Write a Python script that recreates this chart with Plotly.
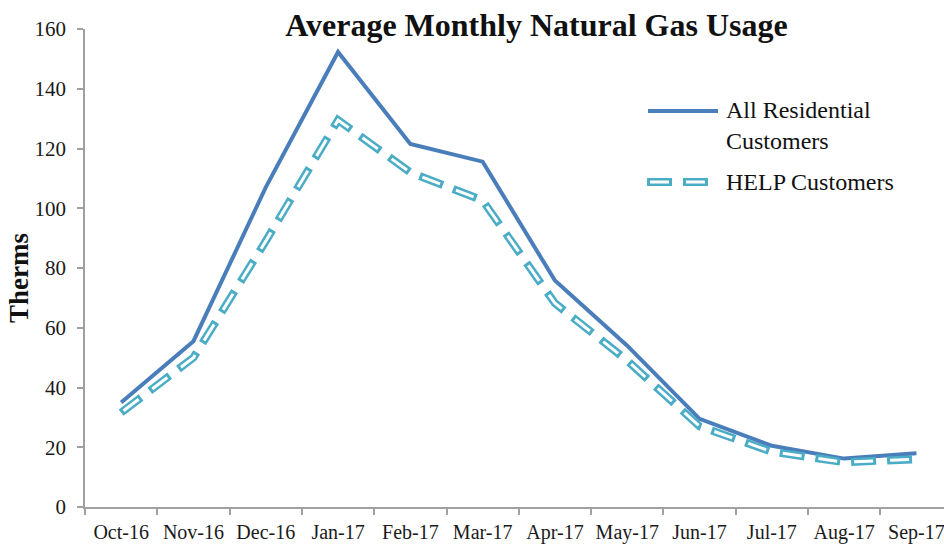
import plotly.graph_objects as go

months = ["Oct-16", "Nov-16", "Dec-16", "Jan-17", "Feb-17", "Mar-17",
          "Apr-17", "May-17", "Jun-17", "Jul-17", "Aug-17", "Sep-17"]
all_residential = [35, 55.5, 107, 152.3, 121.5, 115.6, 75.8, 54, 29.5, 20.5, 16.2, 18]
help_customers = [31.6, 50, 89, 129.5, 112, 102.6, 68.2, 49, 27, 18.5, 15, 16]
y_ticks = [0, 20, 40, 60, 80, 100, 120, 140, 160]

W, H = 944, 544
L, R_EDGE, T, B = 85, 944, 29, 507
PW, PH = R_EDGE - L, B - T

BLUE = "#4A7EBB"
CYAN = "#4BACC6"
SERIF = "Liberation Serif"
OUTER_DASH = "25px,11px"
INNER_DASH = "0px,3px,19px,14px"

fig = go.Figure()
fig.add_trace(go.Scatter(x=months, y=all_residential, mode="lines",
                         line=dict(color=BLUE, width=4), showlegend=False,
                         name="All Residential Customers"))
fig.add_trace(go.Scatter(x=months, y=help_customers, mode="lines",
                         line=dict(color=CYAN, width=8, dash=OUTER_DASH),
                         showlegend=False, name="HELP Customers"))
fig.add_trace(go.Scatter(x=months, y=help_customers, mode="lines",
                         line=dict(color="white", width=3, dash=INNER_DASH),
                         showlegend=False, hoverinfo="skip"))

def px_x(v):
    return (v - L) / PW

def px_y(v):
    return (B - v) / PH

shapes = [
    dict(type="line", xref="paper", yref="paper",
         x0=px_x(648), x1=px_x(718), y0=px_y(111), y1=px_y(111),
         line=dict(color=BLUE, width=4)),
    dict(type="line", xref="paper", yref="paper",
         x0=px_x(647), x1=px_x(708), y0=px_y(182), y1=px_y(182),
         line=dict(color=CYAN, width=8, dash=OUTER_DASH)),
    dict(type="line", xref="paper", yref="paper",
         x0=px_x(647), x1=px_x(708), y0=px_y(182), y1=px_y(182),
         line=dict(color="white", width=3, dash=INNER_DASH)),
]

annotations = [
    dict(text="All Residential<br>Customers", xref="paper", yref="paper",
         x=px_x(724), y=px_y(126), xanchor="left", yanchor="middle",
         align="left", showarrow=False,
         font=dict(family=SERIF, size=24, color="#111111")),
    dict(text="HELP Customers", xref="paper", yref="paper",
         x=px_x(724), y=px_y(182), xanchor="left", yanchor="middle",
         align="left", showarrow=False,
         font=dict(family=SERIF, size=24, color="#111111")),
    dict(text="<b>Therms</b>", xref="paper", yref="paper",
         x=px_x(19), y=px_y(278), xanchor="center", yanchor="middle",
         textangle=-90, showarrow=False,
         font=dict(family=SERIF, size=27, color="#111111")),
]

fig.update_layout(
    width=W, height=H,
    margin=dict(l=L, r=W - R_EDGE, t=T, b=H - B, pad=0),
    paper_bgcolor="white", plot_bgcolor="white",
    title=dict(text="<b>Average Monthly Natural Gas Usage</b>",
               x=px_x(536.5), xref="paper", xanchor="center",
               y=1 - 25 / H, yref="container", yanchor="middle",
               font=dict(family=SERIF, size=32, color="#111111")),
    shapes=shapes, annotations=annotations,
    showlegend=False,
    xaxis=dict(type="category", range=[-0.5, -0.5 + PW / 72.3],
               automargin=False, tickangle=0,
               showline=True, linecolor="#A0A0A0", linewidth=1.5,
               ticks="outside", tickson="boundaries", ticklen=6,
               tickcolor="#A0A0A0", tickwidth=1.5,
               showgrid=False, zeroline=False,
               tickfont=dict(family=SERIF, size=20, color="#1a1a1a"),
               ticklabelstandoff=6),
    yaxis=dict(range=[0, 160], tickvals=y_ticks, automargin=False,
               showline=True, linecolor="#A0A0A0", linewidth=1.5,
               ticks="outside", ticklen=6, tickcolor="#A0A0A0", tickwidth=1.5,
               showgrid=False, zeroline=False,
               tickfont=dict(family=SERIF, size=21, color="#1a1a1a"),
               ticklabelstandoff=7),
)

fig.write_html("out.html",
               config={"displayModeBar": False},
               post_script="document.body.style.margin='0px';document.body.style.overflow='hidden';")
